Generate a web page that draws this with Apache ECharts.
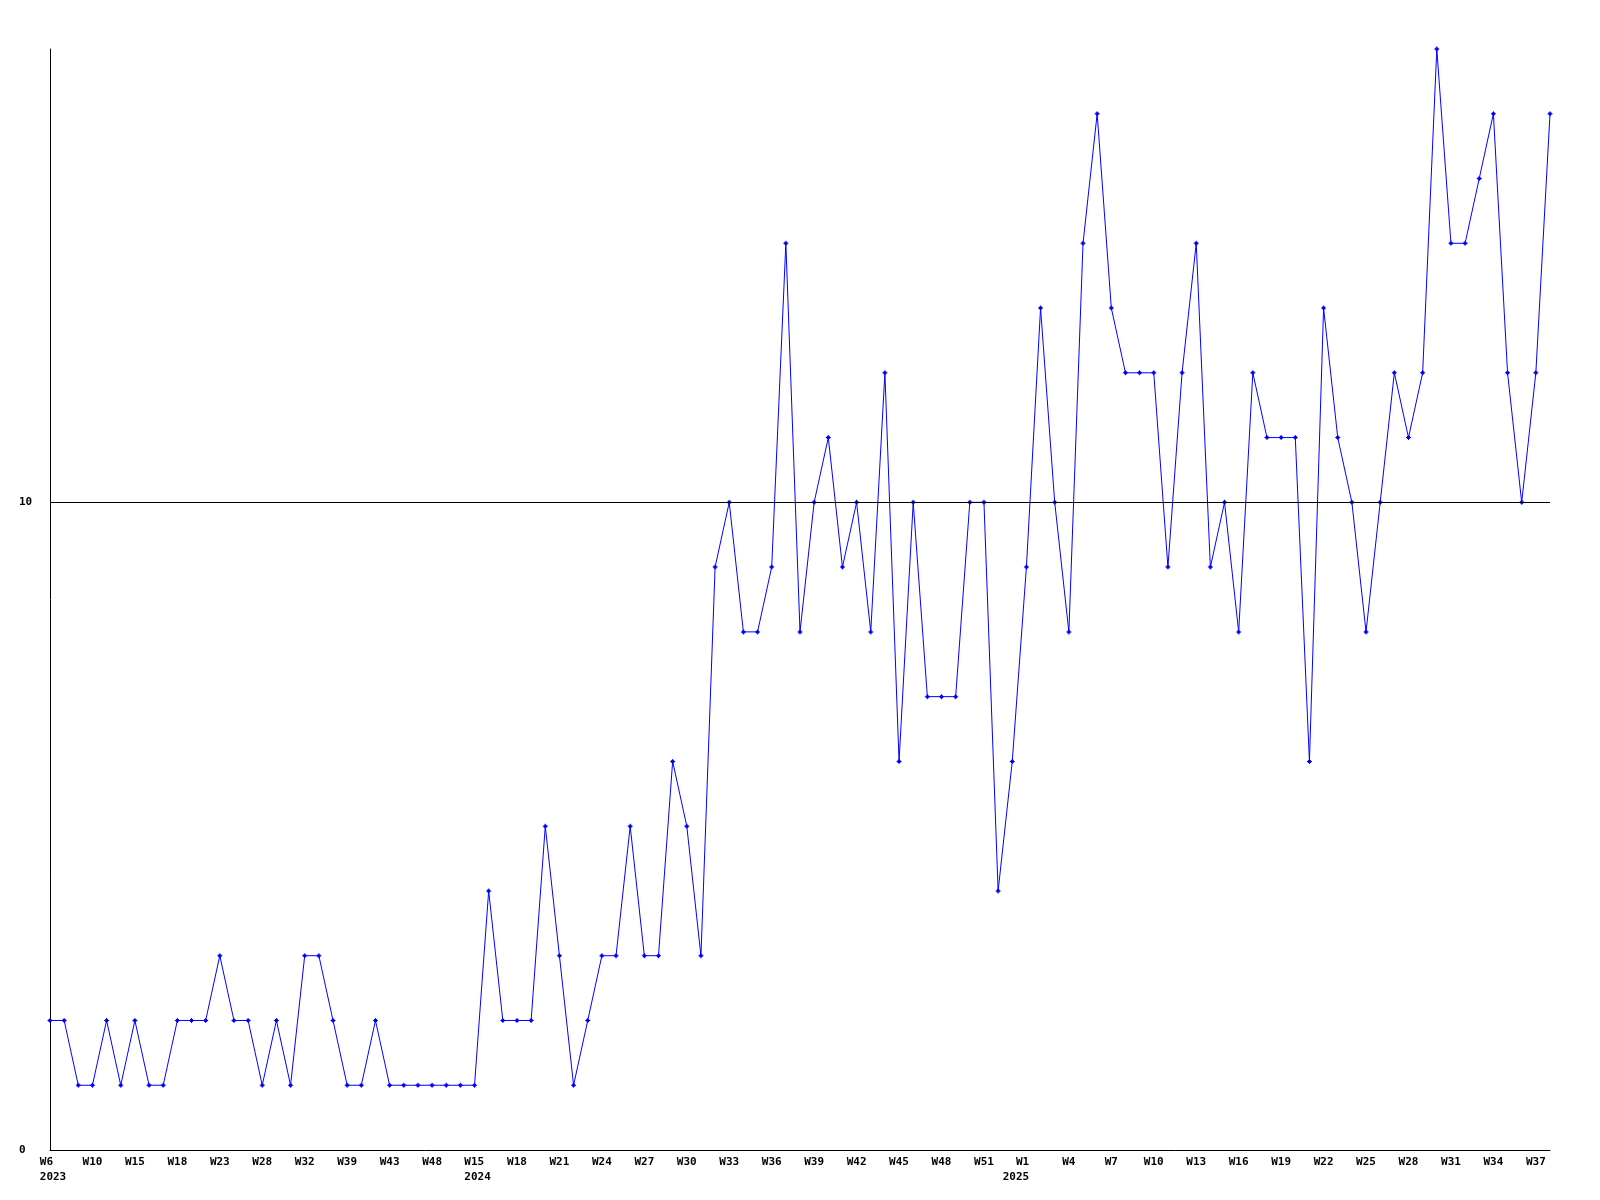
<!DOCTYPE html>
<html>
<head>
<meta charset="utf-8">
<script src="https://cdn.jsdelivr.net/npm/echarts@6/dist/echarts.min.js"></script>
<style>
  html, body { margin: 0; padding: 0; background: #ffffff; }
  #chart { width: 1600px; height: 1200px; }
</style>
</head>
<body>
<div id="chart"></div>
<script>
// Week labels (one per point)
const weeks = [
  'W6','W7','W8','W10','W12','W13','W15','W16','W17','W18',
  'W20','W22','W23','W25','W26','W28','W29','W31','W32','W34',
  'W36','W39','W41','W42','W43','W45','W46','W48','W50','W52',
  'W15','W16','W17','W18','W19','W20','W21','W22','W23','W24',
  'W25','W26','W27','W28','W29','W30','W31','W32','W33','W34',
  'W35','W36','W37','W38','W39','W40','W41','W42','W43','W44',
  'W45','W46','W47','W48','W49','W50','W51','W52','W53',
  'W1','W2','W3','W4','W5','W6','W7','W8','W9','W10',
  'W11','W12','W13','W14','W15','W16','W17','W18','W19','W20',
  'W21','W22','W23','W24','W25','W26','W27','W28','W29','W30',
  'W31','W32','W33','W34','W35','W36','W37','W38'
];
const years = [
  ...Array(30).fill('2023'),
  ...Array(39).fill('2024'),
  ...Array(38).fill('2025')
];
// Series values (one per week)
const values = [
  2,2,1,1,2,1,2,1,1,2,
  2,2,3,2,2,1,2,1,3,3,
  2,1,1,2,1,1,1,1,1,1,
  1,4,2,2,2,5,3,1,2,3,
  3,5,3,3,6,5,3,9,10,8,
  8,9,14,8,10,11,9,10,8,12,
  6,10,7,7,7,10,10,4,6,9,
  13,10,8,14,16,13,12,12,12,9,
  12,14,9,10,8,12,11,11,11,6,
  13,11,10,8,10,12,11,12,17,14,
  14,15,16,12,10,12,16
];
const yTickLabels = [0, 10];
const yMax = 17;

const chart = echarts.init(document.getElementById('chart'), null, { renderer: 'canvas' });
const fontFamily = '"DejaVu Sans Mono", "Liberation Mono", monospace';

function padTo(s, n, left) {
  while (s.length < n) s = left ? ' ' + s : s + ' ';
  return s;
}

chart.setOption({
  animation: false,
  backgroundColor: '#ffffff',
  grid: { left: 50, right: 50, top: 49, bottom: 50 },
  xAxis: {
    type: 'category',
    data: weeks,
    boundaryGap: false,
    axisLine: { show: true, lineStyle: { color: '#000', width: 1 } },
    axisTick: { show: false },
    splitLine: { show: false },
    axisLabel: {
      interval: 2,
      margin: 5,
      color: '#000',
      fontFamily: fontFamily,
      fontWeight: 'bold',
      fontSize: 11,
      lineHeight: 15,
      hideOverlap: false,
      rich: {
        l: { fontFamily: fontFamily, fontWeight: 'bold', fontSize: 11, lineHeight: 15, color: '#000', padding: [0, 0, 0, 6] },
        r: { fontFamily: fontFamily, fontWeight: 'bold', fontSize: 11, lineHeight: 15, color: '#000', padding: [0, 21, 0, 0] }
      },
      formatter: function (v, i) {
        const showYear = (i === 0) || (years[i] !== years[i - 3]);
        if (!showYear) return v;
        const y = years[i];
        if (y === '2025') {
          return '{r|' + padTo(v, y.length, true) + '}\n{r|' + y + '}';
        }
        return '{l|' + padTo(v, y.length, false) + '}\n{l|' + y + '}';
      }
    }
  },
  yAxis: {
    type: 'value',
    min: 0,
    max: yMax,
    interval: 10,
    axisLine: { show: true, lineStyle: { color: '#000', width: 1 } },
    axisTick: { show: false },
    splitLine: { show: false },
    axisLabel: {
      margin: 31,
      align: 'left',
      color: '#000',
      fontFamily: fontFamily,
      fontWeight: 'bold',
      fontSize: 11,
      showMaxLabel: false,
      formatter: function (v) { return yTickLabels.indexOf(v) >= 0 ? String(v) : ''; }
    }
  },
  series: [{
    type: 'line',
    data: values,
    showAllSymbol: true,
    symbol: 'path://M2 0H3V1H4V2H5V3H4V4H3V5H2V4H1V3H0V2H1V1H2Z',
    symbolSize: 5,
    itemStyle: { color: '#0000ff' },
    lineStyle: { color: '#0000ff', width: 1 },
    markLine: {
      silent: true,
      symbol: ['none', 'none'],
      label: { show: false },
      lineStyle: { color: '#000', width: 1, type: 'solid' },
      data: [{ yAxis: 10 }]
    },
    z: 3
  }]
});
</script>
</body>
</html>
